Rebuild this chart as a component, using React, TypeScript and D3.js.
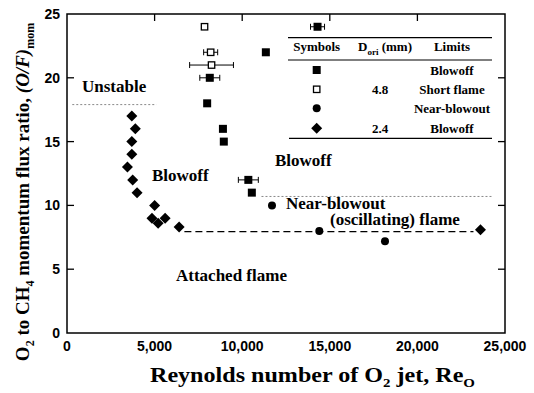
import React from "react";
import * as d3 from "d3";

const W = 534, H = 393;
const xTicks = [0, 5000, 10000, 15000, 20000, 25000];
const yTicks = [0, 5, 10, 15, 20, 25];

// 4.8 mm, blowoff (filled squares): [Re, ratio, xErr]
const sqFilled: [number, number, number][] = [
  [14300, 24, 400], [11350, 22, 0], [8150, 20, 570], [8000, 18, 0],
  [8900, 16, 0], [8950, 15, 0], [10350, 12, 570], [10550, 11, 0],
];
// 4.8 mm, short flame (open squares)
const sqOpen: [number, number, number][] = [
  [7850, 24, 0], [8200, 22, 400], [8250, 21, 1250],
];
// near-blowout (circles)
const circles: [number, number][] = [
  [11700, 10], [14400, 8], [18150, 7.2],
];
// 2.4 mm, blowoff (diamonds)
const diamonds: [number, number][] = [
  [3700, 17], [3900, 16], [3700, 15], [3700, 14], [3450, 13], [3750, 12],
  [4000, 11], [5000, 10], [4850, 9], [5200, 8.6], [5600, 9], [6400, 8.3],
  [23600, 8.1],
];
// boundary lines: [x1, x2, y]
const unstableLine = [300, 5100, 17.9];
const nearLine = [11100, 24300, 10.7];
const attachedLine = [6700, 23200, 7.95];

const legendRows = [
  { sym: "sqFilled", d: "", lim: "Blowoff" },
  { sym: "sqOpen", d: "4.8", lim: "Short flame" },
  { sym: "circle", d: "", lim: "Near-blowout" },
  { sym: "diamond", d: "2.4", lim: "Blowoff" },
];

const serif = "'Liberation Serif', 'Times New Roman', serif";
const sans = "'Liberation Sans', Arial, sans-serif";

function Marker({ type, cx, cy }: { type: string; cx: number; cy: number }) {
  if (type === "sqFilled") return <rect x={cx - 4} y={cy - 4} width={8} height={8} fill="#000" />;
  if (type === "sqOpen") return <rect x={cx - 3.2} y={cy - 3.2} width={6.4} height={6.4} fill="#fff" stroke="#000" strokeWidth={1.3} />;
  if (type === "circle") return <circle cx={cx} cy={cy} r={4} fill="#000" />;
  return <path d={`M${cx},${cy - 5.5}L${cx + 5.5},${cy}L${cx},${cy + 5.5}L${cx - 5.5},${cy}Z`} fill="#000" />;
}

export default function App() {
  const x = d3.scaleLinear().domain([0, 25000]).range([67, 505]);
  const y = d3.scaleLinear().domain([0, 25]).range([333, 14]);
  const fmt = d3.format(",");

  const errBar = (v: number, r: number, e: number, k: string) => {
    if (!e) return null;
    const x1 = x(v - e), x2 = x(v + e), yy = y(r);
    return (
      <g key={k} stroke="#000" strokeWidth={1}>
        <line x1={x1} x2={x2} y1={yy} y2={yy} />
        <line x1={x1} x2={x1} y1={yy - 3} y2={yy + 3} />
        <line x1={x2} x2={x2} y1={yy - 3} y2={yy + 3} />
      </g>
    );
  };

  const lx = [316.7, 385, 452];
  const rowY = [70, 89.3, 108.3, 128.3];

  return (
    <svg width={W} height={H} style={{ position: "absolute", left: 0, top: 0, background: "#fff" }}>
      {/* boundary lines */}
      <line x1={x(unstableLine[0])} x2={x(unstableLine[1])} y1={y(unstableLine[2])} y2={y(unstableLine[2])} stroke="#888" strokeWidth={1} strokeDasharray="2,2" />
      <line x1={x(nearLine[0])} x2={x(nearLine[1])} y1={y(nearLine[2])} y2={y(nearLine[2])} stroke="#888" strokeWidth={1} strokeDasharray="2,2" />
      <line x1={x(attachedLine[0])} x2={x(attachedLine[1])} y1={y(attachedLine[2])} y2={y(attachedLine[2])} stroke="#000" strokeWidth={1.2} strokeDasharray="7,4" />

      {/* frame */}
      <rect x={67} y={14} width={438} height={319} fill="none" stroke="#000" strokeWidth={1.5} />
      {yTicks.filter(t => t > 0 && t < 25).map(t => (
        <g key={"yt" + t} stroke="#000" strokeWidth={1.3}>
          <line x1={67} x2={74} y1={y(t)} y2={y(t)} />
          <line x1={498} x2={505} y1={y(t)} y2={y(t)} />
        </g>
      ))}
      {xTicks.filter(t => t > 0 && t < 25000).map(t => (
        <line key={"xt" + t} x1={x(t)} x2={x(t)} y1={14} y2={21} stroke="#000" strokeWidth={1.3} />
      ))}
      {yTicks.map(t => (
        <text key={"yl" + t} x={60} y={y(t) + 5} textAnchor="end" fontFamily={sans} fontWeight="bold" fontSize={14}>{t}</text>
      ))}
      {xTicks.map(t => (
        <text key={"xl" + t} x={x(t)} y={351} textAnchor="middle" fontFamily={sans} fontWeight="bold" fontSize={14}>{fmt(t)}</text>
      ))}

      {/* error bars */}
      {sqFilled.map((d, i) => errBar(d[0], d[1], d[2], "ef" + i))}
      {sqOpen.map((d, i) => errBar(d[0], d[1], d[2], "eo" + i))}

      {/* markers */}
      {sqFilled.map((d, i) => <Marker key={"f" + i} type="sqFilled" cx={x(d[0])} cy={y(d[1])} />)}
      {sqOpen.map((d, i) => <Marker key={"o" + i} type="sqOpen" cx={x(d[0])} cy={y(d[1])} />)}
      {circles.map((d, i) => <Marker key={"c" + i} type="circle" cx={x(d[0])} cy={y(d[1])} />)}
      {diamonds.map((d, i) => <Marker key={"d" + i} type="diamond" cx={x(d[0])} cy={y(d[1])} />)}

      {/* annotations */}
      <g fontFamily={serif} fontWeight="bold" fontSize={17}>
        <text x={82} y={92}>Unstable</text>
        <text x={152} y={181}>Blowoff</text>
        <text x={275} y={166}>Blowoff</text>
        <text x={286} y={209}>Near-blowout</text>
        <text x={330} y={225}>(oscillating) flame</text>
        <text x={176} y={281}>Attached flame</text>
      </g>

      {/* legend table */}
      <g stroke="#000" strokeWidth={1.2}>
        <line x1={288} x2={492} y1={37.7} y2={37.7} />
        <line x1={288} x2={492} y1={60} y2={60} />
        <line x1={289} x2={492} y1={138.3} y2={138.3} />
      </g>
      <g fontFamily={serif} fontWeight="bold" fontSize={13} textAnchor="middle">
        <text x={lx[0]} y={51}>Symbols</text>
        <text x={lx[1]} y={51}>D<tspan fontSize={9} dy={4}>ori</tspan><tspan dy={-4}> (mm)</tspan></text>
        <text x={lx[2]} y={51}>Limits</text>
        {legendRows.map((r, i) => (
          <g key={"lr" + i}>
            <Marker type={r.sym} cx={lx[0]} cy={rowY[i]} />
            {r.d && <text x={380} y={rowY[i] + 4.5}>{r.d}</text>}
            <text x={lx[2]} y={rowY[i] + 4.5}>{r.lim}</text>
          </g>
        ))}
      </g>

      {/* axis titles */}
      <text x={150} y={382} textLength={325} lengthAdjust="spacingAndGlyphs" fontFamily={serif} fontWeight="bold" fontSize={21}>
        Reynolds number of O<tspan fontSize={13} dy={5}>2</tspan><tspan dy={-5}> jet, Re</tspan><tspan fontSize={13} dy={5}>O</tspan>
      </text>
      <text transform="translate(29,192) rotate(-90)" textAnchor="middle" fontFamily={serif} fontWeight="bold" fontSize={19}>
        O<tspan fontSize={12} dy={5}>2</tspan><tspan dy={-5}> to CH</tspan><tspan fontSize={12} dy={5}>4</tspan><tspan dy={-5}> momentum flux ratio, </tspan><tspan fontStyle="italic">(O/F)</tspan><tspan fontSize={12} dy={5}>mom</tspan>
      </text>
    </svg>
  );
}
